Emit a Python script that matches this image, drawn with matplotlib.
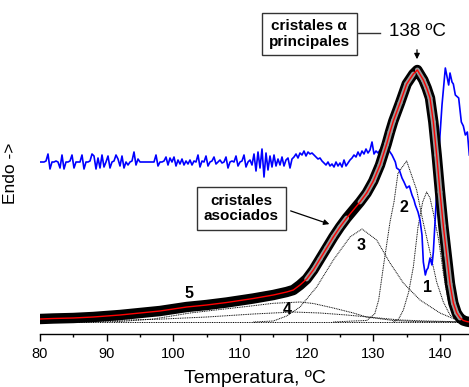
import numpy as np
import matplotlib
matplotlib.use("Agg")
import matplotlib.pyplot as plt
from matplotlib.collections import LineCollection

plt.rcParams['font.family'] = ['Liberation Sans', 'DejaVu Sans']

# measured DSC melting endotherm (arbitrary units, 0 = baseline)
temp = [80, 82, 85, 88, 90, 92, 95, 98, 100, 102, 105, 108, 110, 112, 115,
        117, 118, 119, 120, 121, 122, 123, 124, 125, 126, 127, 128, 129, 130,
        131, 132, 132.5, 133, 134, 135, 136, 136.6, 137.5, 138, 138.5, 139,
        139.5, 140, 140.5, 141, 141.5, 142, 142.5, 143, 143.5, 144, 144.4]
heat = [3, 3.5, 4, 5, 6, 7, 9, 11, 13, 15, 17, 19.5, 21.5, 23.5, 27,
        30, 32, 37, 43, 52, 63, 74, 85, 95, 104, 112, 120, 129, 141,
        157, 178, 190, 201, 219, 238, 248, 252, 242, 234, 224, 200,
        167, 130, 96, 67, 38, 19, 9, 4, 1.5, 0.5, 0]

# deconvoluted components 1-5
p1_t = [133.0, 133.8, 134.5, 135.3, 136.0, 136.7, 137.4, 138.0, 138.5, 139.0,
        139.8, 140.5, 141.2, 142.3, 143.5, 144.4]
p1_h = [0, 3, 12, 30, 55, 95, 120, 130, 124, 109, 82, 49, 22, 4, 0.5, 0]
p2_t = [124.0, 127.0, 129.0, 130.2, 130.8, 131.5, 132.5, 133.1, 133.7, 135.0,
        136.5, 137.4, 138.5, 139.5, 140.5, 141.5, 142.5, 144.4]
p2_h = [0, 1, 1.5, 8, 22, 55, 100, 120, 149, 161, 132, 102, 70, 40, 20, 7, 2, 0]
p3_t = [112, 115, 117, 119, 121.5, 124, 126.5, 128.3, 130.5, 132.5, 134.5,
        137, 140, 142.5, 144.4]
p3_h = [0, 1, 6, 15, 35, 62, 85, 93, 82, 59, 39, 22, 9, 2, 0.5]
p4_t = [85, 92, 97, 102.5, 107, 111, 115, 117.5, 119, 121, 124, 127, 129,
        133, 136, 144.4]
p4_h = [0, 0.5, 3, 9, 12.5, 15.5, 18.7, 19.5, 20, 18.5, 14, 9, 5, 1.5, 0.5, 0]
p5_t = [80, 90, 97.5, 105, 112, 118, 122, 126, 130, 134, 138, 144.4]
p5_h = [0.5, 1.5, 2.7, 5, 8, 10, 9, 7, 4.5, 2, 1, 0]

# derivative signal (blue): regular samples every 0.3 degC from 80 degC
blue_h = [160, 160, 160, 161, 168, 153, 160, 160, 161, 160,
          154, 167, 153, 160, 160, 161, 167, 154, 160, 160,
          160, 167, 153, 160, 160, 161, 168, 166, 153, 164,
          154, 167, 155, 160, 166, 154, 160, 161, 167, 163,
          156, 166, 154, 160, 157, 160, 161, 170, 157, 163,
          160, 160, 160, 160, 160, 160, 160, 160, 167, 156,
          160, 160, 161, 165, 157, 164, 160, 165, 156, 162,
          158, 163, 157, 161, 158, 162, 157, 161, 160, 167,
          155, 161, 160, 166, 156, 160, 161, 165, 158, 160,
          162, 159, 160, 165, 154, 160, 161, 160, 166, 156,
          160, 161, 167, 155, 160, 162, 157, 168, 151, 170,
          154, 173, 145, 169, 152, 166, 155, 167, 156, 163,
          157, 165, 156, 162, 164, 154, 163, 165, 168, 164,
          169, 167, 171, 166, 170, 168, 169, 167, 165, 163,
          164, 161, 159, 157, 160, 156, 158, 155, 160, 156,
          159, 155, 162, 156, 159, 162, 164, 167, 165, 170,
          166, 171, 168, 173, 169, 172, 180, 168, 171, 169,
          172, 170]
# derivative signal, tail across the melting peak
tail_t = [131.6, 132.0, 132.3, 132.8, 133.3, 133.5, 133.9, 134.3, 134.6, 135.0,
          135.4, 135.8, 136.1, 136.3, 136.7, 137.0, 137.3, 137.5, 137.8, 138.0,
          138.2, 138.5, 138.8, 139.0, 139.4, 139.8, 140.3, 140.8, 141.0, 141.3,
          141.5, 141.8, 142.0, 142.3, 142.8, 143.2, 143.5, 143.8, 144.1, 144.4]
tail_h = [172, 180, 172, 167, 160, 154, 152, 144, 140, 134,
          136, 127, 122, 117, 110, 102, 87, 60, 47, 52,
          54, 64, 57, 70, 117, 167, 217, 254, 247, 237,
          249, 240, 238, 227, 224, 200, 196, 187, 190, 167]

blue_t = list(80 + 0.3 * np.arange(len(blue_h))) + tail_t
blue_v = blue_h + tail_h

fig = plt.figure(figsize=(4.69, 3.87), dpi=100)
ax = fig.add_axes([40 / 469, 53 / 387, 429 / 469, 334 / 387])
ax.set_xlim(80, 144.35)
ax.set_ylim(-12, 322)

# components and baseline
dot = dict(color='black', lw=0.7, ls=(0, (1, 0.8)))
for t, h in [(p1_t, p1_h), (p2_t, p2_h), (p3_t, p3_h), (p4_t, p4_h), (p5_t, p5_h)]:
    ax.plot(t, h, **dot)
ax.plot([80, 144.4], [0, 0], **dot)

ax.plot(blue_t, blue_v, color='#0000ff', lw=1.2, zorder=3)

# experimental points: dense open circles give a dark band,
# a grey core where the curve is steep and the circles spread apart
pts = np.column_stack([temp, heat])
ax.plot(temp, heat, color='black', lw=7.5, solid_capstyle='round', zorder=4)
xy = ax.transData.transform(pts)
d = np.diff(xy, axis=0)
steep = np.abs(d[:, 1]) / np.hypot(d[:, 0], d[:, 1])
segs = np.stack([pts[:-1], pts[1:]], axis=1)[steep > 0.8]
ax.add_collection(LineCollection(segs, colors='#9a9a9a', linewidths=3.5,
                                 capstyle='round', zorder=4))
ax.plot(temp, heat, color='red', lw=1.0, zorder=5)

# labels of components
for s, x, y in [('1', 138.05, 35), ('2', 134.6, 115), ('3', 128.15, 76),
                ('4', 117.05, 13), ('5', 102.35, 29)]:
    ax.text(x, y, s, fontsize=11.5, fontweight='bold', ha='center', va='center', zorder=6)

box = dict(boxstyle='square,pad=0.45', fc='white', ec='#333333', lw=1.0)
ax.text(120.4, 288, 'cristales α\nprincipales', fontsize=11, fontweight='bold',
        ha='center', va='center', linespacing=1.1, bbox=box, zorder=6)
ax.plot([127.7, 131.0], [289, 289], color='#333333', lw=1.0)
ax.text(132.35, 290, '138 ºC', fontsize=13.5, ha='left', va='center')
ax.annotate('', xy=(136.55, 260), xytext=(136.55, 275),
            arrowprops=dict(arrowstyle='-|>', color='black', lw=0.9, mutation_scale=8))

ax.text(110.2, 113.5, 'cristales\nasociados', fontsize=11, fontweight='bold',
        ha='center', va='center', linespacing=1.1, bbox=box, zorder=6)
ax.annotate('', xy=(123.8, 97), xytext=(117.2, 112),
            arrowprops=dict(arrowstyle='-|>', color='black', lw=0.9, mutation_scale=8))

for side in ['left', 'right', 'top']:
    ax.spines[side].set_visible(False)
ax.spines['bottom'].set_linewidth(1.0)
ax.set_yticks([])
ax.set_xticks(range(80, 141, 10))
ax.set_xticks(range(85, 145, 10), minor=True)
ax.tick_params(axis='x', which='major', direction='out', length=5, width=1,
               labelsize=10.5, pad=4)
ax.tick_params(axis='x', which='minor', direction='out', length=2.5, width=1)

ax.set_xlabel('Temperatura, ºC', fontsize=14, labelpad=6.5)
ax.set_ylabel('Endo ->', fontsize=12.5)
ax.yaxis.set_label_coords(-0.051, 0.482)

fig.savefig('out.png', dpi=100)
